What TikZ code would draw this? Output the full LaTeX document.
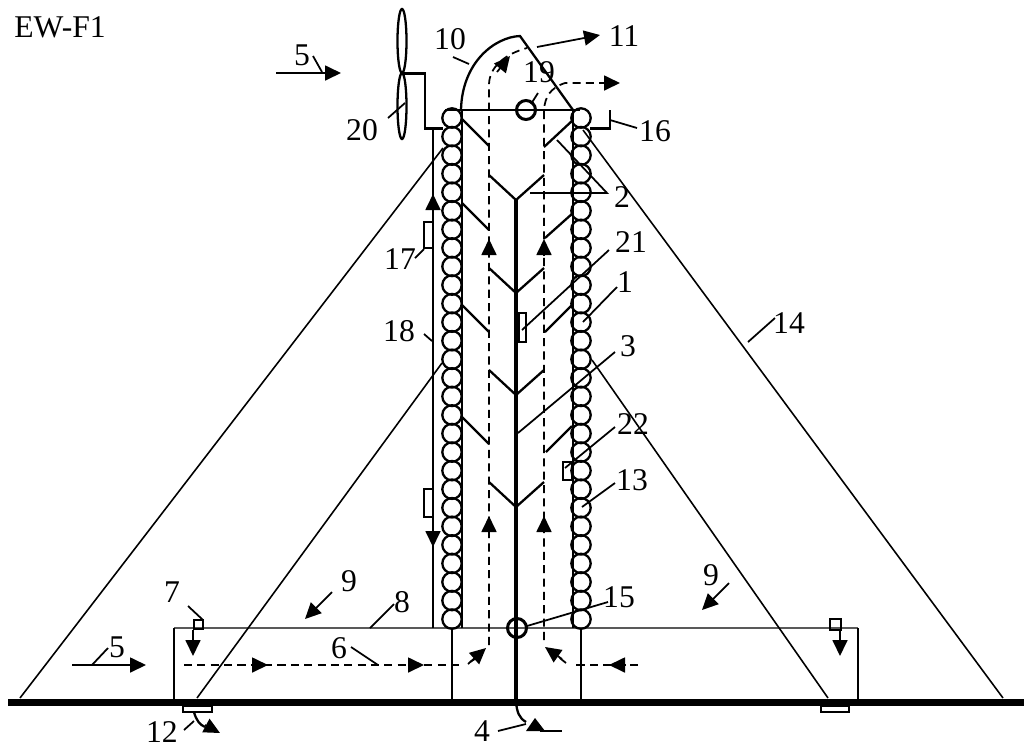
\documentclass[tikz,border=0pt]{standalone}
\usepackage{fontspec}
\setmainfont{Liberation Serif}
\usetikzlibrary{arrows.meta}
\tikzset{
  tag/.style={font=\fontsize{9}{11}\selectfont, inner sep=0pt},
  flow/.style={line width=.5pt, dash pattern=on 2.3pt off 1.5pt},
  head/.style={line width=.5pt, -{Triangle[length=1.6mm,width=1.5mm]}},
  wall/.style={line width=.65pt},
  trunk/.style={line width=.95pt},
  thinline/.style={line width=.45pt},
  leader/.style={line width=.5pt},
}
\begin{document}
\begin{tikzpicture}
\useasboundingbox (0,0) rectangle (10.24,7.52);

% ground and basin
\draw [line width=2.2pt] (0.08,0.495) -- (10.24,0.495);
\draw [wall, gray!70!black] (1.74,1.24) -- (8.58,1.24);
\draw [wall] (1.74,1.24) -- (1.74,0.5);
\draw [line width=.85pt] (8.58,1.24) -- (8.58,0.5);
\draw [wall] (4.52,1.24) -- (4.52,0.5);
\draw [wall] (5.81,1.24) -- (5.81,0.5);
\draw [wall] (1.83,0.46) rectangle (2.12,0.4);
\draw [wall] (8.21,0.46) rectangle (8.49,0.4);

% stays
\draw [thinline] (0.2,0.54) -- (4.43,6.04);
\draw [thinline] (1.97,0.54) -- (4.42,3.89);
\draw [thinline] (10.03,0.54) -- (5.83,6.22);
\draw [thinline] (8.28,0.54) -- (5.92,3.92);

% tower
\foreach \n in {0,...,27} {
  \draw [wall] (4.52,6.34-\n*0.1856) circle (0.097);
  \draw [wall] (5.81,6.34-\n*0.1856) circle (0.097);
}
\draw [wall] (4.62,6.42) -- (4.62,1.24);
\draw [wall] (5.73,6.42) -- (5.73,1.24);
\draw [wall] (4.45,6.42) -- (5.8,6.42);
\draw [trunk] (5.16,5.52) -- (5.16,0.5);
\draw [line width=.85pt] (5.26,6.42) circle (0.095);
\draw [line width=.85pt] (5.17,1.24) circle (0.095);

% chevrons
\foreach \ya in {5.52,4.59,3.57,2.45}
  \draw [wall] (4.89,\ya+.25) -- (5.16,\ya) -- (5.44,\ya+.25);
\foreach \yb in {6.33,5.49,4.47,3.35}
  \draw [wall] (4.62,\yb) -- (4.89,\yb-.27);
\draw [wall] (5.73,6.32) -- (5.44,6.05);
\draw [wall] (5.73,5.39) -- (5.45,5.14);
\draw [wall] (5.72,4.47) -- (5.45,4.20);
\draw [wall] (5.72,3.26) -- (5.46,3.00);

% chimney
\draw [wall] (4.61,6.42) .. controls (4.62,6.9) and (4.95,7.15) .. (5.2,7.16) -- (5.73,6.42);

% turbine and side pipes
\draw [line width=.85pt] (4.43,6.24) -- (4.25,6.24) -- (4.25,6.79) -- (4.0,6.79);
\draw [wall] (4.02,7.11) ellipse (0.045 and 0.32);
\draw [wall] (4.02,6.46) ellipse (0.045 and 0.33);
\draw [line width=.85pt] (5.9,6.24) -- (6.1,6.24) -- (6.1,6.42);
\draw [wall] (4.33,6.24) -- (4.33,1.24);
\draw [head] (4.33,5.42) -- (4.33,5.58);
\draw [head] (4.33,2.36) -- (4.33,2.05);
\draw [wall] (4.33,5.3) -| (4.24,5.04) -- (4.33,5.04);
\draw [wall] (4.33,2.63) -| (4.24,2.35) -- (4.33,2.35);

% sensors
\draw [wall] (5.19,4.39) rectangle (5.26,4.1);
\draw [wall] (5.63,2.9) rectangle (5.72,2.72);
\draw [wall] (1.94,1.32) rectangle (2.03,1.23);
\draw [wall] (8.3,1.33) rectangle (8.41,1.22);
\draw [head] (1.93,1.22) -- (1.93,0.96);
\draw [head] (8.4,1.22) -- (8.4,0.96);

% air path
\draw [flow] (4.89,1.07) -- (4.89,6.67) .. controls (4.89,6.85) and (5.05,6.98) .. (5.27,7.04);
\draw [flow] (5.44,1.12) -- (5.44,6.42) .. controls (5.45,6.55) and (5.5,6.64) .. (5.65,6.69) -- (6.05,6.69);
\draw [head] (6.03,6.69) -- (6.2,6.69);
\draw [head] (5.37,7.05) -- (6.0,7.17);
\draw [head] (4.97,6.8) -- (5.1,6.96);
\draw [head] (4.89,4.97) -- (4.89,5.13);
\draw [head] (5.44,4.97) -- (5.44,5.13);
\draw [head] (4.89,2.2) -- (4.89,2.36);
\draw [head] (5.44,2.2) -- (5.44,2.36);
\draw [flow] (1.84,0.87) -- (4.62,0.87);
\draw [head] (2.52,0.87) -- (2.68,0.87);
\draw [head] (4.08,0.87) -- (4.24,0.87);
\draw [flow] (4.7,0.9) -- (4.75,0.93);
\draw [head] (4.68,0.88) -- (4.86,1.04);
\draw [flow] (6.38,0.87) -- (5.72,0.87);
\draw [head] (6.26,0.87) -- (6.09,0.87);
\draw [flow] (5.66,0.89) -- (5.56,0.97);
\draw [head] (5.62,0.93) -- (5.45,1.05);

% drains
\draw [wall] (1.94,0.4) .. controls (1.96,0.32) and (2.0,0.27) .. (2.05,0.25);
\draw [head] (2.05,0.27) -- (2.2,0.19);
\draw [wall] (5.16,0.5) .. controls (5.17,0.4) and (5.19,0.34) .. (5.26,0.3);
\fill (5.26,0.21) -- (5.35,0.34) -- (5.45,0.21) -- cycle;
\draw [wall] (5.4,0.21) -- (5.62,0.21);

% wind
\draw [head] (2.76,6.79) -- (3.41,6.79);
\draw [head] (0.72,0.87) -- (1.46,0.87);
\draw [head] (3.32,1.6) -- (3.05,1.33);
\draw [head] (7.29,1.69) -- (7.02,1.42);

% labels
\node (ewfa) at (0.6,7.25) [tag] {EW-F1};
\node (lfivea) at (3.02,6.97) [tag] {5};
\draw [leader] (3.13,6.96) -- (3.22,6.8);
\node (lten) at (4.5,7.13) [tag] {10};
\draw [leader] (4.53,6.95) -- (4.69,6.88);
\node (leleven) at (6.24,7.16) [tag] {11};
\node (lnineteen) at (5.39,6.8) [tag] {19};
\draw [leader] (5.38,6.59) -- (5.31,6.48);
\node (lsixteen) at (6.55,6.21) [tag] {16};
\draw [leader] (6.1,6.32) -- (6.37,6.24);
\node (ltwenty) at (3.62,6.22) [tag] {20};
\draw [leader] (3.88,6.34) -- (4.05,6.49);
\node (ltwo) at (6.22,5.55) [tag] {2};
\draw [leader] (5.3,5.59) -- (6.07,5.59) -- (5.57,6.12);
\node (ltwentyone) at (6.31,5.1) [tag] {21};
\draw [leader] (6.09,5.02) -- (5.22,4.22);
\node (lone) at (6.25,4.7) [tag] {1};
\draw [leader] (6.17,4.65) -- (5.83,4.3);
\node (lseventeen) at (4.0,4.93) [tag] {17};
\draw [leader] (4.15,4.94) -- (4.24,5.03);
\node (leighteen) at (3.99,4.21) [tag] {18};
\draw [leader] (4.24,4.18) -- (4.32,4.11);
\node (lfourteen) at (7.89,4.29) [tag] {14};
\draw [leader] (7.75,4.34) -- (7.48,4.1);
\node (lthree) at (6.28,4.06) [tag] {3};
\draw [leader] (6.15,4.0) -- (5.18,3.19);
\node (ltwentytwo) at (6.33,3.28) [tag] {22};
\draw [leader] (6.15,3.25) -- (5.65,2.84);
\node (lthirteen) at (6.32,2.72) [tag] {13};
\draw [leader] (6.15,2.69) -- (5.82,2.45);
\node (lfifteen) at (6.19,1.55) [tag] {15};
\draw [leader] (5.27,1.26) -- (6.08,1.5);
\node (lninea) at (3.49,1.71) [tag] {9};
\node (lnineb) at (7.11,1.77) [tag] {9};
\node (leight) at (4.02,1.5) [tag] {8};
\draw [leader] (3.7,1.24) -- (3.94,1.48);
\node (lseven) at (1.72,1.6) [tag] {7};
\draw [leader] (1.88,1.46) -- (2.03,1.32);
\node (lsix) at (3.39,1.04) [tag] {6};
\draw [leader] (3.51,1.05) -- (3.78,0.87);
\node (lfiveb) at (1.17,1.05) [tag] {5};
\draw [leader] (0.92,0.87) -- (1.08,1.04);
\node (ltwelve) at (1.62,0.2) [tag] {12};
\draw [leader] (1.84,0.22) -- (1.94,0.31);
\node (lfour) at (4.82,0.21) [tag] {4};
\draw [leader] (4.98,0.21) -- (5.26,0.28);
\end{tikzpicture}
\end{document}
